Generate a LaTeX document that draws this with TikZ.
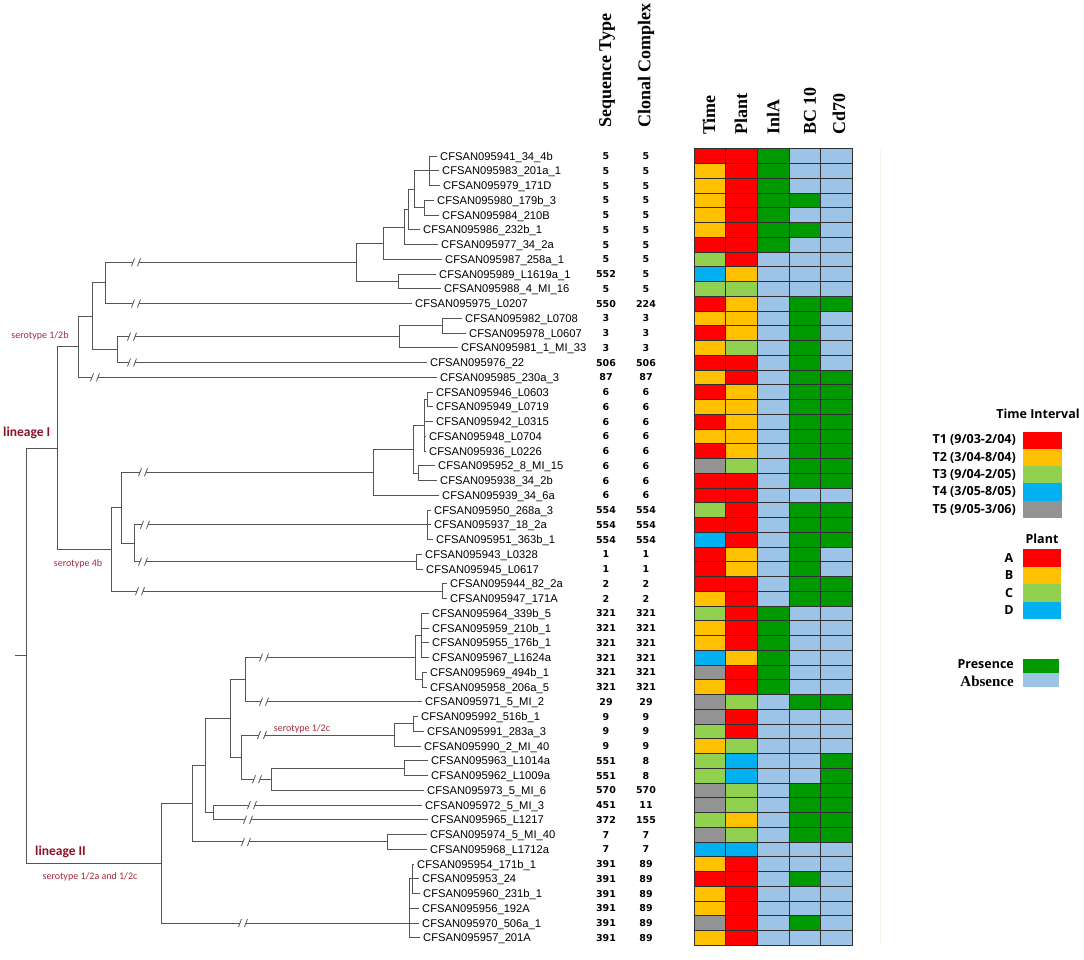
\documentclass[tikz,border=0pt]{standalone}
\usepackage{fontspec}
\setmainfont{Liberation Sans}
\newfontfamily\numfont{DejaVu Sans}
\newfontfamily\hdrfont{Liberation Serif}
\newfontfamily\calfont{Carlito}
\newfontfamily\osfont{Open Sans}
\definecolor{cR}{HTML}{FF0000}
\definecolor{cO}{HTML}{FFC000}
\definecolor{cG}{HTML}{92D050}
\definecolor{cB}{HTML}{00B0F0}
\definecolor{cY}{HTML}{939393}
\definecolor{cD}{HTML}{009A00}
\definecolor{cL}{HTML}{9DC3E6}
\definecolor{treecol}{HTML}{555555}
\definecolor{cellline}{HTML}{303030}
\definecolor{linred}{HTML}{8E1028}
\definecolor{serred}{HTML}{A8283E}
\definecolor{faint}{HTML}{F4F0E6}
\begin{document}
\begin{tikzpicture}[x=1pt,y=-1pt,
  br/.style={draw=treecol,line width=0.9pt},
  lbl/.style={anchor=base west,inner sep=0pt,font=\fontsize{11.2}{13}\selectfont},
  num/.style={anchor=base,inner sep=0pt,font=\numfont\bfseries\fontsize{9.5}{11}\selectfont},
  hdr/.style={rotate=90,anchor=west,inner sep=0pt,font=\hdrfont\bfseries\fontsize{18}{20}\selectfont},
  cellst/.style={draw=cellline,line width=0.7pt},
  lin/.style={inner sep=0pt,text=linred,font=\calfont\bfseries\fontsize{13.5}{15}\selectfont},
  sero/.style={inner sep=0pt,text=serred,font=\calfont\fontsize{10}{12}\selectfont},
  legt/.style={inner sep=0pt,font=\osfont\bfseries\fontsize{12.5}{14}\selectfont},
  legs/.style={inner sep=0pt,font=\hdrfont\bfseries\fontsize{15}{17}\selectfont},
  brk/.pic={\fill[white] (-3,-3) rectangle (3,3);
            \draw[treecol,line width=0.8pt] (-4.5,4) -- (-1.5,-4) (1.5,4) -- (4.5,-4);}
]
\useasboundingbox (0,0) rectangle (1084,959);
\fill[white] (0,0) rectangle (1084,959);

% faint guide line
\draw[faint,line width=1pt] (880,150) -- (880,945);

% headers
\node[hdr] (hseq) at (607,128) {Sequence Type};
\node[hdr] (hcc) at (646,128) {Clonal Complex};
\node[hdr] (htime) at (709,135) {Time};
\node[hdr] (hplant) at (741,135) {Plant};
\node[hdr] (hinla) at (773,135) {InlA};
\node[hdr] (hbc) at (810,135) {BC 10};
\node[hdr] (hcd) at (839,135) {Cd70};

% leaves: index / label x / name / sequence type / clonal complex
\foreach \i/\lx/\nm/\st/\cq in {
1/440/CFSAN095941\_34\_4b/5/5,
2/442/CFSAN095983\_201a\_1/5/5,
3/443/CFSAN095979\_171D/5/5,
4/437/CFSAN095980\_179b\_3/5/5,
5/442/CFSAN095984\_210B/5/5,
6/423/CFSAN095986\_232b\_1/5/5,
7/441/CFSAN095977\_34\_2a/5/5,
8/445/CFSAN095987\_258a\_1/5/5,
9/439/CFSAN095989\_L1619a\_1/552/5,
10/444/CFSAN095988\_4\_MI\_16/5/5,
11/415/CFSAN095975\_L0207/550/224,
12/465/CFSAN095982\_L0708/3/3,
13/469/CFSAN095978\_L0607/3/3,
14/461/CFSAN095981\_1\_MI\_33/3/3,
15/430/CFSAN095976\_22/506/506,
16/440/CFSAN095985\_230a\_3/87/87,
17/436/CFSAN095946\_L0603/6/6,
18/436/CFSAN095949\_L0719/6/6,
19/436/CFSAN095942\_L0315/6/6,
20/429/CFSAN095948\_L0704/6/6,
21/429/CFSAN095936\_L0226/6/6,
22/438/CFSAN095952\_8\_MI\_15/6/6,
23/440/CFSAN095938\_34\_2b/6/6,
24/442/CFSAN095939\_34\_6a/6/6,
25/434/CFSAN095950\_268a\_3/554/554,
26/434/CFSAN095937\_18\_2a/554/554,
27/436/CFSAN095951\_363b\_1/554/554,
28/425/CFSAN095943\_L0328/1/1,
29/426/CFSAN095945\_L0617/1/1,
30/450/CFSAN095944\_82\_2a/2/2,
31/450/CFSAN095947\_171A/2/2,
32/432/CFSAN095964\_339b\_5/321/321,
33/432/CFSAN095959\_210b\_1/321/321,
34/432/CFSAN095955\_176b\_1/321/321,
35/432/CFSAN095967\_L1624a/321/321,
36/430/CFSAN095969\_494b\_1/321/321,
37/430/CFSAN095958\_206a\_5/321/321,
38/425/CFSAN095971\_5\_MI\_2/29/29,
39/421/CFSAN095992\_516b\_1/9/9,
40/427/CFSAN095991\_283a\_3/9/9,
41/424/CFSAN095990\_2\_MI\_40/9/9,
42/431/CFSAN095963\_L1014a/551/8,
43/431/CFSAN095962\_L1009a/551/8,
44/427/CFSAN095973\_5\_MI\_6/570/570,
45/425/CFSAN095972\_5\_MI\_3/451/11,
46/431/CFSAN095965\_L1217/372/155,
47/430/CFSAN095974\_5\_MI\_40/7/7,
48/430/CFSAN095968\_L1712a/7/7,
49/417/CFSAN095954\_171b\_1/391/89,
50/422/CFSAN095953\_24/391/89,
51/423/CFSAN095960\_231b\_1/391/89,
52/422/CFSAN095956\_192A/391/89,
53/422/CFSAN095970\_506a\_1/391/89,
54/423/CFSAN095957\_201A/391/89}{
  \pgfmathsetmacro\yy{156+(\i-1)*14.75}
  \coordinate (t\i) at ({\lx-3},{\yy});
  \node[lbl] (l\i) at ({\lx},{\yy+4}) {\nm};
  \node[num] (s\i) at (606,{\yy+3.5}) {\st};
  \node[num] (c\i) at (646,{\yy+3.5}) {\cq};
}

% internal nodes of the tree
\coordinate (nA) at (429,170.75);
\coordinate (nB) at (424,207.63);
\coordinate (nAB) at (414,189.19);
\coordinate (nC1) at (408,209.47);
\coordinate (nC) at (404,226.98);
\coordinate (nD) at (383,243.12);
\coordinate (nF) at (398,281.38);
\coordinate (nE) at (356,262.25);
\coordinate (nG) at (105,282.88);
\coordinate (nI) at (442,325.63);
\coordinate (nJ) at (399,336.69);
\coordinate (nK) at (117,349.59);
\coordinate (nH) at (92,316.23);
\coordinate (nL) at (78,346.74);
\coordinate (nO0) at (427,399.38);
\coordinate (nO1) at (424,425.19);
\coordinate (nP) at (418,473.13);
\coordinate (nO2) at (413,449.16);
\coordinate (nQ) at (373,472.2);
\coordinate (nS) at (427,524.75);
\coordinate (nT) at (416,561.63);
\coordinate (nU) at (134,543.19);
\coordinate (nN1) at (121,507.7);
\coordinate (nV) at (442,591.13);
\coordinate (nN) at (111,549.4);
\coordinate (nM) at (57,448.07);
\coordinate (nW1) at (421,635.38);
\coordinate (nW2) at (422,679.63);
\coordinate (nW) at (415,657.5);
\coordinate (nX) at (245,679.63);
\coordinate (nZ1) at (413,723.88);
\coordinate (nZ) at (394,734.94);
\coordinate (nAA) at (404,768.13);
\coordinate (nAB2) at (271,779.19);
\coordinate (nAC) at (241,757.06);
\coordinate (nAD) at (230,718.35);
\coordinate (nAF) at (213,812.38);
\coordinate (nAE) at (205,765.36);
\coordinate (nAH) at (387,841.88);
\coordinate (nAG) at (192,803.62);
\coordinate (nAJ1) at (412,878.75);
\coordinate (nAJ) at (409,923);
\coordinate (nAI) at (161,863.31);
\coordinate (root) at (26,655.69);
\coordinate (rootstub) at (15,655.69);

\foreach \p/\q in {nA/t1,nA/t2,nA/t3,nB/t4,nB/t5,nAB/nA,nAB/nB,nC1/nAB,nC1/t6,
  nC/nC1,nC/t7,nD/nC,nD/t8,nF/t9,nF/t10,nE/nD,nE/nF,nG/nE,nG/t11,
  nI/t12,nI/t13,nJ/nI,nJ/t14,nK/nJ,nK/t15,nH/nG,nH/nK,nL/nH,nL/t16,
  nO0/t17,nO0/t18,nO1/nO0,nO1/t19,nO1/t20,nO1/t21,nP/t22,nP/t23,nO2/nO1,nO2/nP,
  nQ/nO2,nQ/t24,nS/t25,nS/t26,nS/t27,nT/t28,nT/t29,nU/nS,nU/nT,nN1/nQ,nN1/nU,
  nV/t30,nV/t31,nN/nN1,nN/nV,nM/nL,nM/nN,
  nW1/t32,nW1/t33,nW1/t34,nW1/t35,nW2/t36,nW2/t37,nW/nW1,nW/nW2,nX/nW,nX/t38,
  nZ1/t39,nZ1/t40,nZ/nZ1,nZ/t41,nAA/t42,nAA/t43,nAB2/nAA,nAB2/t44,nAC/nZ,nAC/nAB2,
  nAD/nX,nAD/nAC,nAF/t45,nAF/t46,nAE/nAD,nAE/nAF,nAH/t47,nAH/t48,nAG/nAE,nAG/nAH,
  nAJ1/t49,nAJ1/t50,nAJ1/t51,nAJ/nAJ1,nAJ/t52,nAJ/t53,nAJ/t54,nAI/nAG,nAI/nAJ,
  root/nM,root/nAI}{
  \draw[br] (\p) |- (\q);
}
\draw[br] (rootstub) -- (root);

% branch breaks
\foreach \bx/\by in {136/262.25,136/303.5,132/336.69,132/362.5,95/377.25,
  143/472.2,145/524.75,143/561.63,140/591.13,
  264/657.5,264/701.75,262/734.94,257/779.19,252/805,248/819.75,246/841.88,243/923}{
  \pic at (\bx,\by) {brk};
}

% clade labels
\node[lin,anchor=west] (lin1) at (3,433) {lineage I};
\node[lin,anchor=west] (lin2) at (35,852) {lineage II};
\node[sero] (s12b) at (40,336) {serotype 1/2b};
\node[sero] (s4b) at (78,564) {serotype 4b};
\node[sero] (s12c) at (302,729) {serotype 1/2c};
\node[sero] (s12ac) at (90,877) {serotype 1/2a and 1/2c};

% heat map
\foreach \i/\qa/\qb/\qc/\qd/\qe in {
1/R/R/D/L/L,2/O/R/D/L/L,3/O/R/D/L/L,4/O/R/D/D/L,5/O/R/D/L/L,6/O/R/D/D/L,
7/R/R/D/L/L,8/G/R/L/L/L,9/B/O/L/L/L,10/G/G/L/L/L,11/R/O/L/D/D,12/O/O/L/D/L,
13/R/O/L/D/L,14/O/G/L/D/L,15/R/R/L/D/L,16/O/R/L/D/D,17/R/O/L/D/D,18/O/O/L/D/D,
19/R/O/L/D/D,20/O/O/L/D/D,21/R/O/L/D/D,22/Y/G/L/D/D,23/R/R/L/D/D,24/R/R/L/L/L,
25/G/R/L/D/D,26/R/R/L/D/D,27/B/R/L/D/D,28/R/O/L/D/L,29/R/O/L/D/L,30/R/R/L/D/D,
31/O/R/L/D/D,32/G/R/D/L/L,33/O/R/D/L/L,34/O/R/D/L/L,35/B/O/D/L/L,36/Y/R/D/L/L,
37/O/R/D/L/L,38/Y/G/L/D/D,39/Y/R/L/L/L,40/G/R/L/L/L,41/O/G/L/L/L,42/G/B/L/L/D,
43/G/B/L/L/D,44/Y/G/L/D/D,45/Y/G/L/D/D,46/G/O/L/D/D,47/Y/G/L/D/D,48/B/B/L/L/L,
49/O/R/L/L/L,50/R/R/L/D/L,51/O/R/L/L/L,52/O/R/L/L/L,53/Y/R/L/D/L,54/O/R/L/L/L}{
  \pgfmathsetmacro\yt{148.6+(\i-1)*14.75}
  \pgfmathsetmacro\yb{\yt+14.75}
  \filldraw[cellst,fill=c\qa] (694,\yt) rectangle (725.7,\yb);
  \filldraw[cellst,fill=c\qb] (725.7,\yt) rectangle (757.4,\yb);
  \filldraw[cellst,fill=c\qc] (757.4,\yt) rectangle (789.1,\yb);
  \filldraw[cellst,fill=c\qd] (789.1,\yt) rectangle (820.8,\yb);
  \filldraw[cellst,fill=c\qe] (820.8,\yt) rectangle (852.5,\yb);
}

% legend: time interval
\node[legt] (lgti) at (1038,414) {Time Interval};
\foreach \k/\lab/\col in {0/T1 (9\slash 03-2\slash 04)/cR,1/T2 (3\slash 04-8\slash 04)/cO,
  2/T3 (9\slash 04-2\slash 05)/cG,3/T4 (3\slash 05-8\slash 05)/cB,4/T5 (9\slash 05-3\slash 06)/cY}{
  \pgfmathsetmacro\ya{431.5+\k*17.3}
  \fill[\col] (1023,\ya) rectangle (1062,{\ya+17.3});
  \node[legt,anchor=east] (lgt\k) at (1016,{\ya+8.9}) {\lab};
}
% legend: plant
\node[legt] (lgpl) at (1042,539) {Plant};
\foreach \k/\lab/\col in {0/A/cR,1/B/cO,2/C/cG,3/D/cB}{
  \pgfmathsetmacro\ya{549+\k*17.5}
  \fill[\col] (1023,\ya) rectangle (1061,{\ya+17.5});
  \node[legt] (lgp\k) at (1009,{\ya+9}) {\lab};
}
% legend: presence / absence
\fill[cD] (1023,659) rectangle (1059,673);
\fill[cL] (1023,673) rectangle (1059,687);
\node[legt,anchor=east] (lgpr) at (1014,664) {Presence};
\node[legs,anchor=east] (lgab) at (1014,681) {Absence};
\end{tikzpicture}
\end{document}
